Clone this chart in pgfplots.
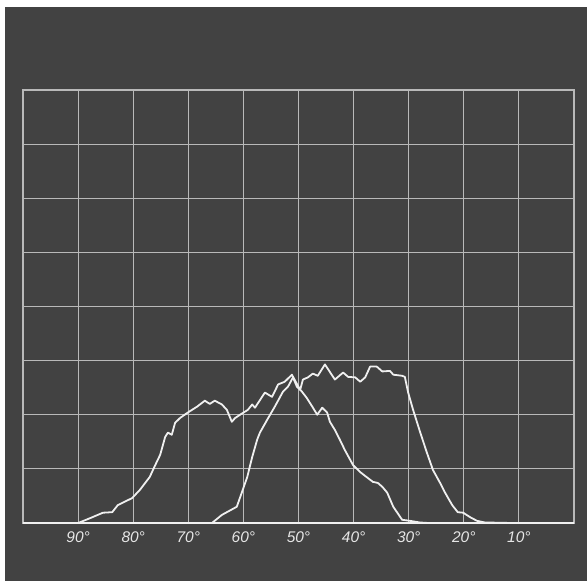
\documentclass[border=0pt]{standalone}
\usepackage{pgfplots}
\pgfplotsset{compat=1.18}
\usepackage{fontspec}
\setmainfont{Liberation Sans}
\definecolor{bgdark}{RGB}{66,66,66}
\definecolor{gridc}{RGB}{185,185,185}
\definecolor{curvec}{RGB}{240,240,240}
\definecolor{labc}{RGB}{230,230,230}
\begin{document}
\begin{tikzpicture}[x=1bp,y=1bp]
\fill[white] (0,0) rectangle (587,581);
\fill[bgdark] (5,0) rectangle (587,574);
\begin{axis}[
  at={(23bp,58bp)}, anchor=south west,
  scale only axis, width=551bp, height=433bp,
  xmin=0, xmax=100, x dir=reverse,
  ymin=0, ymax=8,
  xtick={10,20,...,90},
  xticklabels={10°,20°,30°,40°,50°,60°,70°,80°,90°},
  ytick={1,2,...,7}, yticklabels={},
  major tick length=0,
  grid=major,
  grid style={gridc, line width=1.1bp},
  axis line style={gridc, line width=1.2bp},
  extra y ticks={0}, extra y tick labels={},
  extra y tick style={grid style={curvec, line width=2.2bp}},
  xticklabel style={font=\itshape\fontsize{15.5}{16}\selectfont, text=labc, yshift=-5bp},
]
\addplot[curvec, line width=1.8bp, line join=round, mark=none] table {
x y
90.0 0.00
87.8 0.09
85.5 0.19
83.8 0.20
82.8 0.33
80.2 0.46
78.8 0.61
77.0 0.85
76.0 1.07
75.1 1.26
74.2 1.59
73.7 1.67
73.0 1.63
72.4 1.85
71.5 1.94
70.1 2.04
68.4 2.15
67.0 2.26
66.1 2.20
65.2 2.26
63.9 2.19
63.0 2.09
62.1 1.87
61.5 1.94
60.3 2.02
59.2 2.09
58.4 2.19
57.9 2.13
56.1 2.41
54.8 2.33
53.7 2.56
52.5 2.61
51.2 2.74
49.7 2.46
49.2 2.65
48.3 2.69
47.4 2.76
46.5 2.72
45.2 2.93
43.4 2.65
41.9 2.78
41.0 2.70
39.7 2.69
38.8 2.61
37.9 2.69
37.0 2.89
35.8 2.89
34.8 2.80
33.4 2.81
32.8 2.74
31.2 2.72
30.7 2.70
30.1 2.41
29.2 2.09
27.9 1.67
26.7 1.30
25.6 0.98
24.3 0.74
23.4 0.56
22.1 0.33
21.1 0.20
20.1 0.19
18.9 0.11
17.6 0.04
16.2 0.01
11.3 0.00
};
\addplot[curvec, line width=1.8bp, line join=round, mark=none] table {
x y
65.7 0.00
63.9 0.15
61.2 0.30
60.3 0.56
59.3 0.85
58.4 1.22
57.5 1.54
57.0 1.67
55.5 1.94
54.3 2.15
52.8 2.43
51.9 2.52
51.0 2.69
50.3 2.52
49.4 2.43
48.5 2.31
47.5 2.15
46.6 2.00
45.7 2.13
44.8 2.04
44.3 1.87
43.4 1.72
42.5 1.54
41.6 1.35
40.1 1.07
38.8 0.94
37.4 0.83
36.5 0.76
35.6 0.74
34.8 0.67
33.9 0.56
32.8 0.30
31.2 0.06
29.8 0.04
28.0 0.01
26.5 0.00
};
\end{axis}
\end{tikzpicture}
\end{document}
